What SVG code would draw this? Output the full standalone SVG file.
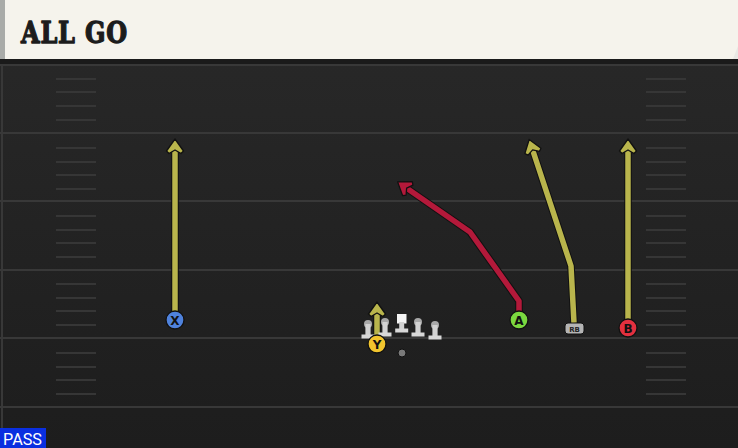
<svg xmlns="http://www.w3.org/2000/svg" width="738" height="448" viewBox="0 0 738 448">
<defs>
<linearGradient id="field" x1="0" y1="0" x2="0" y2="1">
<stop offset="0" stop-color="#292929"/>
<stop offset="1" stop-color="#1d1d1d"/>
</linearGradient>
<marker id="ay" markerUnits="userSpaceOnUse" markerWidth="30" markerHeight="30" viewBox="-15 -15 30 30" refX="0" refY="0" orient="auto" overflow="visible">
<path d="M9,0 L-3,-8.5 L-5.5,-6 L-2,0 L-5.5,6 L-3,8.5 Z" fill="#b9b54c" stroke="#111" stroke-width="1.3" stroke-linejoin="round"/>
</marker>
<marker id="ar" markerUnits="userSpaceOnUse" markerWidth="30" markerHeight="30" viewBox="-15 -15 30 30" refX="0" refY="0" orient="auto" overflow="visible">
<path d="M9,0 L-3,-8.5 L-5.5,-6 L-2,0 L-5.5,6 L-3,8.5 Z" fill="#b3193a" stroke="#111" stroke-width="1.3" stroke-linejoin="round"/>
</marker>
<g id="lineman">
<circle cx="0" cy="-14" r="4" fill="#a8a8a8"/>
<rect x="-2.6" y="-14" width="5.2" height="12" fill="#d2d2d2"/>
<rect x="-6.5" y="-3.5" width="13" height="4" fill="#d8d8d8"/>
</g>
</defs>
<style>
.yard{stroke:#383838;stroke-width:2}
.hash{stroke:#363636;stroke-width:2}
.rt{fill:none;stroke-width:5.5;stroke-linejoin:round;stroke-linecap:butt}
.out{fill:none;stroke:#111;stroke-width:7.5;stroke-linejoin:round}
.lbl{font-family:"DejaVu Sans",sans-serif;font-weight:bold;font-size:12px;fill:#111;text-anchor:middle}
.pc{stroke:#111;stroke-width:1.3}
</style>
<rect x="0" y="0" width="738" height="448" fill="url(#field)"/>
<line x1="2" y1="64" x2="2" y2="448" stroke="#383838" stroke-width="2"/>
<g id="yardlines">
<line class="yard" x1="0" y1="65" x2="738" y2="65"/>
<line class="yard" x1="0" y1="133" x2="738" y2="133"/>
<line class="yard" x1="0" y1="201" x2="738" y2="201"/>
<line class="yard" x1="0" y1="270" x2="738" y2="270"/>
<line class="yard" x1="0" y1="338" x2="738" y2="338"/>
<line class="yard" x1="0" y1="407" x2="738" y2="407"/>
</g>
<g id="hashes">
<path class="hash" d="M56,79H96M56,92H96M56,106H96M56,120H96M56,148H96M56,162H96M56,175H96M56,189H96M56,216H96M56,230H96M56,243H96M56,257H96M56,284H96M56,298H96M56,311H96M56,325H96M56,353H96M56,367H96M56,380H96M56,394H96"/>
<path class="hash" d="M646,79H686M646,92H686M646,106H686M646,120H686M646,148H686M646,162H686M646,175H686M646,189H686M646,216H686M646,230H686M646,243H686M646,257H686M646,284H686M646,298H686M646,311H686M646,325H686M646,353H686M646,367H686M646,380H686M646,394H686"/>
</g>
<g id="header">
<rect x="0" y="0" width="738" height="64" fill="#1a1a1a"/>
<rect x="0" y="0" width="738" height="59" fill="#e8e8e4"/>
<path d="M5,0 H738 V46 L733,59 H5 Z" fill="#f5f3ec"/>
<rect x="0" y="0" width="5" height="59" fill="#a9aba8"/>
<text x="21" y="43" font-family="DejaVu Serif, serif" font-weight="bold" font-size="29" fill="#1c1c1c" stroke="#1c1c1c" stroke-width="1.3" stroke-linejoin="round" letter-spacing="1" textLength="107" lengthAdjust="spacingAndGlyphs">ALL GO</text>
</g>
<g id="connectors">
<path class="out" d="M175,311 V148"/>
<path class="rt" stroke="#b9b54c" d="M175,311 V148" marker-end="url(#ay)"/>
<path class="out" d="M377,335 V311"/>
<path class="rt" stroke="#b9b54c" d="M377,335 V311" marker-end="url(#ay)"/>
<path class="out" d="M519,311 V301 L470,232 L405,187"/>
<path class="rt" stroke="#b3193a" d="M519,311 V301 L470,232 L405,187" marker-end="url(#ar)"/>
<path class="out" d="M574,323 L571,266 L532,148"/>
<path class="rt" stroke="#b9b54c" d="M574,323 L571,266 L532,148" marker-end="url(#ay)"/>
<path class="out" d="M628,319 V148"/>
<path class="rt" stroke="#b9b54c" d="M628,319 V148" marker-end="url(#ay)"/>
</g>
<g id="line">
<use href="#lineman" x="368" y="338"/>
<use href="#lineman" x="385" y="336"/>
<g id="center">
<rect x="397" y="314" width="9.5" height="9.5" fill="#f4f4f4"/>
<rect x="399.2" y="322" width="5" height="8" fill="#d2d2d2"/>
<rect x="395.2" y="328.5" width="13" height="4" fill="#d8d8d8"/>
</g>
<use href="#lineman" x="418" y="336"/>
<use href="#lineman" x="435" y="339"/>
</g>
<g id="qb"><circle cx="402" cy="353" r="4" fill="#7a7a7a" stroke="#111" stroke-width="1"/></g>
<g id="X"><circle class="pc" cx="175" cy="320" r="9" fill="#4f82dc"/><text class="lbl" x="175" y="324.5">X</text></g>
<g id="Y"><circle class="pc" cx="377" cy="344" r="9" fill="#f2c52e"/><text class="lbl" x="377" y="348.5">Y</text></g>
<g id="A"><circle class="pc" cx="519" cy="320" r="9" fill="#7bd83f"/><text class="lbl" x="519" y="324.5">A</text></g>
<g id="B"><circle class="pc" cx="628" cy="328" r="9" fill="#e3303f"/><text class="lbl" x="628" y="332.5">B</text></g>
<g id="RB"><rect x="565" y="323" width="19" height="11" rx="3" fill="#b4b4b4" stroke="#111" stroke-width="1"/><text x="574.5" y="331.5" font-family="DejaVu Sans, sans-serif" font-size="7" font-weight="bold" fill="#222" text-anchor="middle">RB</text></g>
<g id="pass">
<rect x="0" y="428" width="46" height="20" fill="#0a2fe0"/>
<text x="3" y="445" font-family="Roboto, sans-serif" font-size="17" fill="#ffffff" textLength="39" lengthAdjust="spacingAndGlyphs">PASS</text>
</g>
</svg>
